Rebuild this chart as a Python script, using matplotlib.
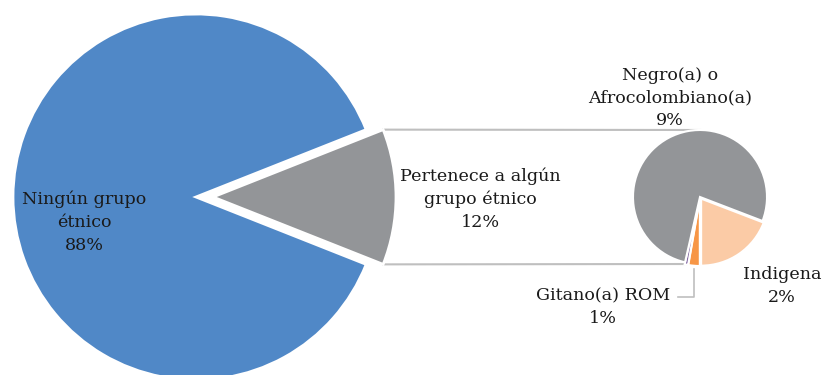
import numpy as np
import matplotlib
matplotlib.use("Agg")
import matplotlib.pyplot as plt

# big pie
main_labels = ["Ningún grupo\nétnico\n88%", "Pertenece a algún\ngrupo étnico\n12%"]
main_values = [88, 12]
main_colors = ["#5088C7", "#939598"]

# small pie (breakdown of the 12%)
sub_names = ["Indigena", "Gitano(a) ROM", "Otro", "Negro(a) o Afrocolombiano(a)"]
sub_labels = ["Indigena\n2%", "Gitano(a) ROM\n1%", "", "Negro(a) o\nAfrocolombiano(a)\n9%"]
sub_values = [2.3, 0.33, 0.1, 9.27]
sub_colors = ["#FBCBA6", "#F79646", "#8064A2", "#939598"]

W, H = 825, 375
TXT = "#1a1a1a"
FS = 12.6
plt.rcParams['font.family'] = ['DejaVu Serif']

fig = plt.figure(figsize=(W / 100, H / 100), dpi=100)
ax = fig.add_axes([0, 0, 1, 1])

big_c, big_r = (196, 178), 183
half = main_values[1] / sum(main_values) * 180
# explode is in data units here (pixels)
big, _ = ax.pie(main_values, colors=main_colors, center=big_c, radius=big_r,
                startangle=half, explode=[0, 17],
                wedgeprops=dict(edgecolor="white", linewidth=2))

small_c, small_r = (700, 178), 67
small, _ = ax.pie(sub_values, colors=sub_colors, center=small_c, radius=small_r,
                  startangle=-21, counterclock=False, explode=[2, 2, 2, 0],
                  wedgeprops=dict(edgecolor="white", linewidth=1.5))

# connector lines between the exploded wedge and the small pie
g = big[1]
for ang, sy in [(g.theta2, 1), (g.theta1, -1)]:
    x0 = g.center[0] + g.r * np.cos(np.radians(ang))
    y0 = g.center[1] + g.r * np.sin(np.radians(ang))
    ax.plot([x0, small_c[0]], [y0, small_c[1] + sy * small_r],
            color="#BFBFBF", lw=1.5, zorder=0)

# labels
kw = dict(ha="center", va="center", fontsize=FS, color=TXT, linespacing=1.45)
ax.text(84, 153, main_labels[0], **kw)
ax.text(480, 176, main_labels[1], **kw)
ax.text(670, 277, sub_labels[3], **kw)
ax.text(782, 89, sub_labels[0], **kw)
ax.text(603, 68, sub_labels[1], **kw)

# leader for Gitano slice
w = small[1]
mid = np.radians((w.theta1 + w.theta2) / 2)
px = w.center[0] + w.r * np.cos(mid)
py = w.center[1] + w.r * np.sin(mid)
ax.plot([px, px, 678], [py - 3, 78, 78], color="#BFBFBF", lw=1.2)

ax.set_xlim(0, W)
ax.set_ylim(0, H)
ax.set_aspect("equal")
ax.axis("off")

fig.savefig("out.png", dpi=100)
